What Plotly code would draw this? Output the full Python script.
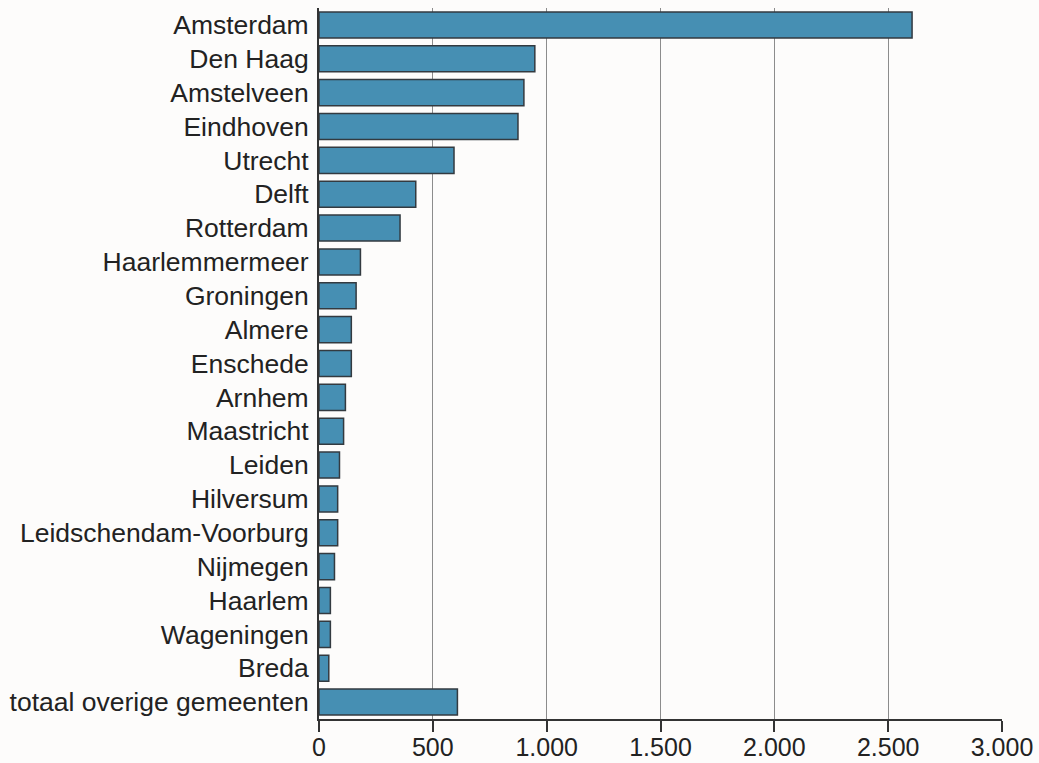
import plotly.graph_objects as go

categories = ["Amsterdam", "Den Haag", "Amstelveen", "Eindhoven", "Utrecht", "Delft",
              "Rotterdam", "Haarlemmermeer", "Groningen", "Almere", "Enschede", "Arnhem",
              "Maastricht", "Leiden", "Hilversum", "Leidschendam-Voorburg", "Nijmegen",
              "Haarlem", "Wageningen", "Breda", "totaal overige gemeenten"]
values = [2605, 948, 900, 874, 593, 425, 356, 182, 163, 142, 142, 116,
          108, 90, 82, 82, 68, 50, 50, 43, 608]
tick_vals = [0, 500, 1000, 1500, 2000, 2500, 3000]
tick_text = ["0", "500", "1.000", "1.500", "2.000", "2.500", "3.000"]

BG = "#fdfcfb"
TXT = "#222222"

fig = go.Figure(go.Bar(
    x=values, y=categories, orientation="h",
    marker=dict(color="#468fb3", line=dict(color="#333a40", width=1.5)),
    hoverinfo="x+y",
))

fig.update_layout(
    width=1039, height=763,
    margin=dict(l=319, r=37, t=8, b=44),
    paper_bgcolor=BG, plot_bgcolor=BG,
    bargap=0.23,
    showlegend=False,
    font=dict(family="Liberation Sans, Arial, sans-serif", color=TXT, size=26),
    xaxis=dict(
        range=[0, 3000], tickvals=tick_vals, ticktext=tick_text,
        showgrid=True, gridcolor="#8c8c8c", gridwidth=1,
        showline=True, linecolor="#333333", linewidth=2,
        ticks="outside", ticklen=11, tickwidth=2, tickcolor="#333333",
        zeroline=False, tickfont=dict(size=25, color=TXT),
        ticklabelstandoff=-6, automargin=False,
    ),
    yaxis=dict(
        autorange="reversed", showgrid=False,
        showline=True, linecolor="#333333", linewidth=2,
        ticks="", ticklabelstandoff=3, tickfont=dict(size=26.5, color=TXT),
        zeroline=False, automargin=False,
    ),
)

fig.write_html(
    "out.html",
    config={"displayModeBar": False},
    post_script="document.body.style.margin='0';document.body.style.background='%s';" % BG,
)
